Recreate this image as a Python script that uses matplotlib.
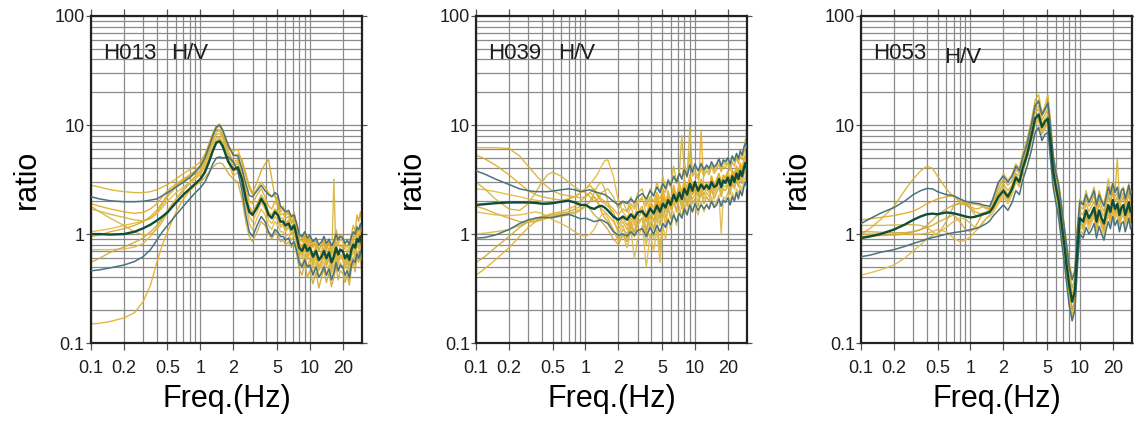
import matplotlib.pyplot as plt
from matplotlib.ticker import FixedLocator, NullFormatter

plt.rcParams['font.family'] = ['Liberation Sans', 'DejaVu Sans']
plt.rcParams['text.color'] = '#1e1e1e'
plt.rcParams['xtick.labelcolor'] = '#1e1e1e'
plt.rcParams['ytick.labelcolor'] = '#1e1e1e'

# frequency samples (Hz), shared by all curves
freq = [0.1, 0.12, 0.15, 0.2, 0.25, 0.3, 0.35, 0.4, 0.45, 0.5,
        0.6, 0.7, 0.8, 0.9, 1.0, 1.1, 1.2, 1.3, 1.4, 1.5,
        1.6, 1.8, 2.0, 2.2, 2.4, 2.6, 2.8, 3.0, 3.3, 3.6,
        3.9, 4.2, 4.5, 4.8, 5.1, 5.4, 5.7, 6.0, 6.4, 6.8,
        7.2, 7.6, 8.0, 8.5, 9.0, 9.5, 10, 10.7, 11.4, 12.1,
        12.8, 13.5, 14.2, 15, 15.8, 16.6, 17.4, 18.2, 19, 20,
        21, 22, 23, 24, 25, 26, 27, 28, 29, 30]

# ---------------- H013 ----------------
h013_mean = [1.00, 1.00, 0.99, 1.00, 1.05, 1.13, 1.22, 1.33, 1.45, 1.58,
             1.95, 2.30, 2.60, 2.90, 3.20, 3.70, 4.60, 5.80, 6.90, 7.10,
             6.40, 4.60, 3.90, 4.10, 3.20, 2.10, 1.60, 1.50, 1.75, 2.10,
             1.85, 1.50, 1.40, 1.60, 1.50, 1.30, 1.30, 1.20, 1.25, 1.10,
             1.20, 0.95, 0.75, 0.70, 0.80, 0.70, 0.75, 0.62, 0.70, 0.58,
             0.62, 0.70, 0.60, 0.68, 0.55, 0.62, 0.75, 0.65, 0.72, 0.70,
             0.60, 0.65, 0.58, 0.72, 0.80, 0.75, 0.90, 0.85, 0.95, 0.80]
h013_upper = [2.20, 2.10, 2.02, 1.98, 1.98, 2.00, 2.05, 2.10, 2.25, 2.40,
              2.70, 3.00, 3.30, 3.70, 4.20, 5.00, 6.30, 8.00, 9.60, 10.0,
              9.00, 6.50, 5.30, 5.20, 4.00, 2.90, 2.25, 2.20, 2.50, 2.80,
              2.50, 2.30, 2.20, 2.40, 2.30, 1.80, 1.70, 1.60, 1.65, 1.45,
              1.50, 1.25, 1.00, 0.95, 1.05, 0.92, 0.98, 0.85, 0.92, 0.80,
              0.85, 0.95, 0.82, 0.90, 0.78, 0.85, 1.00, 0.88, 0.95, 0.92,
              0.82, 0.88, 0.80, 0.95, 1.05, 1.00, 1.15, 1.10, 1.25, 1.05]
h013_lower = [0.46, 0.47, 0.49, 0.52, 0.56, 0.62, 0.72, 0.88, 1.05, 1.20,
              1.50, 1.80, 2.10, 2.40, 2.65, 3.00, 3.60, 4.40, 5.00, 5.10,
              5.00, 5.10, 4.60, 3.80, 2.50, 1.50, 1.05, 0.95, 1.20, 1.45,
              1.30, 1.05, 0.95, 1.10, 1.05, 0.95, 0.95, 0.88, 0.92, 0.80,
              0.85, 0.70, 0.55, 0.50, 0.58, 0.50, 0.52, 0.42, 0.50, 0.40,
              0.44, 0.50, 0.42, 0.48, 0.38, 0.44, 0.55, 0.46, 0.52, 0.50,
              0.42, 0.46, 0.40, 0.52, 0.58, 0.55, 0.66, 0.60, 0.70, 0.58]
h013_obs = [
    [2.80, 2.70, 2.55, 2.45, 2.40, 2.40, 2.45, 2.55, 2.70, 2.85,
     3.20, 3.60, 3.90, 4.20, 4.60, 5.40, 6.80, 8.20, 9.20, 9.00,
     8.00, 6.20, 5.80, 6.00, 4.50, 3.40, 2.60, 2.30, 2.60, 3.00,
     2.70, 2.40, 2.20, 2.30, 2.00, 1.70, 1.80, 1.55, 1.60, 1.40,
     1.60, 1.10, 0.90, 0.85, 1.00, 0.80, 0.95, 0.75, 0.85, 0.70,
     0.80, 0.90, 0.70, 0.85, 0.65, 0.78, 0.95, 0.80, 0.90, 0.85,
     0.72, 0.80, 0.70, 0.90, 1.00, 0.92, 1.10, 1.05, 1.20, 1.00],
    [1.90, 1.80, 1.70, 1.60, 1.55, 1.58, 1.70, 1.90, 2.20, 2.50,
     2.90, 3.20, 3.50, 3.80, 4.00, 4.80, 6.00, 7.80, 9.40, 9.80,
     8.60, 5.80, 4.60, 4.80, 3.80, 2.60, 2.00, 1.90, 2.30, 2.60,
     2.20, 1.80, 1.70, 2.00, 1.80, 1.50, 1.55, 1.40, 1.45, 1.25,
     1.40, 1.05, 0.85, 0.75, 0.95, 0.70, 0.90, 0.60, 0.80, 0.55,
     0.70, 0.85, 0.58, 0.75, 0.50, 0.68, 0.85, 0.62, 0.80, 0.75,
     0.55, 0.72, 0.52, 0.80, 0.95, 0.70, 1.20, 0.90, 1.10, 0.75],
    [1.70, 1.62, 1.52, 1.42, 1.35, 1.32, 1.38, 1.55, 1.85, 2.20,
     2.70, 3.00, 3.30, 3.60, 3.80, 4.40, 5.60, 7.00, 8.20, 8.40,
     7.60, 5.20, 4.20, 4.40, 3.60, 2.40, 1.80, 1.60, 1.90, 2.30,
     2.00, 1.60, 1.50, 1.70, 1.60, 1.40, 1.40, 1.25, 1.35, 1.15,
     1.30, 0.95, 0.70, 0.65, 0.82, 0.62, 0.75, 0.55, 0.68, 0.50,
     0.58, 0.72, 0.55, 0.66, 0.48, 0.58, 0.72, 0.56, 0.66, 0.62,
     0.50, 0.60, 0.48, 0.66, 0.75, 0.62, 0.85, 0.78, 0.88, 0.70],
    [1.05, 1.08, 1.12, 1.20, 1.26, 1.32, 1.40, 1.55, 1.75, 2.00,
     2.40, 2.70, 3.00, 3.30, 3.60, 4.20, 5.20, 6.50, 7.60, 7.80,
     7.00, 4.80, 3.70, 4.00, 3.00, 2.00, 1.45, 1.30, 1.60, 1.95,
     1.70, 1.35, 1.25, 1.45, 1.35, 1.15, 1.20, 1.05, 1.15, 0.98,
     1.15, 0.85, 0.62, 0.60, 0.72, 0.58, 0.68, 0.50, 0.62, 0.46,
     0.52, 0.64, 0.50, 0.60, 0.44, 0.52, 0.68, 0.52, 0.62, 0.58,
     0.48, 0.56, 0.45, 0.62, 0.70, 0.60, 0.80, 0.72, 0.82, 0.66],
    [0.95, 0.98, 1.05, 1.12, 1.20, 1.30, 1.45, 1.65, 1.95, 2.30,
     2.80, 3.10, 3.40, 3.80, 4.30, 5.20, 6.60, 8.40, 9.80, 10.2,
     9.00, 6.60, 5.20, 5.40, 4.80, 3.60, 2.80, 2.40, 3.00, 3.80,
     4.40, 4.80, 3.20, 2.20, 1.90, 1.60, 1.70, 1.50, 1.55, 1.30,
     1.45, 1.20, 1.00, 0.90, 1.05, 0.85, 0.95, 0.78, 0.90, 0.72,
     0.80, 0.95, 0.75, 0.88, 0.70, 0.82, 1.10, 0.90, 1.00, 0.95,
     0.80, 0.90, 0.78, 1.00, 1.20, 1.05, 1.50, 1.30, 1.60, 1.25],
    [0.72, 0.72, 0.72, 0.73, 0.76, 0.82, 0.95, 1.15, 1.40, 1.65,
     2.10, 2.50, 2.90, 3.20, 3.50, 4.00, 4.80, 6.00, 7.20, 7.60,
     6.80, 4.60, 3.40, 3.70, 2.80, 1.80, 1.25, 1.10, 1.40, 1.70,
     1.50, 1.20, 1.10, 1.30, 1.20, 1.05, 1.05, 0.95, 1.00, 0.88,
     1.00, 0.78, 0.58, 0.52, 0.65, 0.50, 0.58, 0.44, 0.55, 0.40,
     0.46, 0.56, 0.42, 0.52, 0.38, 0.46, 0.60, 0.45, 0.55, 0.50,
     0.40, 0.48, 0.38, 0.55, 0.62, 0.52, 0.70, 0.65, 0.75, 0.60],
    [0.55, 0.60, 0.68, 0.76, 0.84, 0.92, 1.05, 1.20, 1.40, 1.60,
     1.95, 2.30, 2.55, 2.80, 3.00, 3.30, 3.70, 4.10, 4.40, 4.50,
     4.40, 3.60, 3.20, 3.00, 2.10, 1.30, 0.95, 0.85, 1.05, 1.30,
     1.20, 1.00, 0.90, 1.05, 1.00, 0.85, 0.88, 0.80, 0.85, 0.75,
     0.85, 0.65, 0.48, 0.42, 0.55, 0.40, 0.46, 0.35, 0.45, 0.32,
     0.40, 0.48, 0.36, 0.44, 0.33, 0.40, 0.50, 0.38, 0.46, 0.44,
     0.36, 0.42, 0.34, 0.48, 0.55, 0.45, 0.62, 0.55, 0.66, 0.40],
    [0.15, 0.152, 0.158, 0.17, 0.19, 0.24, 0.34, 0.55, 0.80, 1.05,
     1.60, 2.10, 2.50, 2.80, 3.10, 3.60, 4.50, 5.80, 7.00, 7.40,
     6.60, 4.80, 3.80, 4.00, 3.20, 2.20, 1.70, 1.55, 1.85, 2.20,
     1.90, 1.55, 1.45, 1.65, 1.50, 1.30, 1.35, 1.20, 1.30, 1.10,
     1.25, 1.00, 0.80, 0.72, 0.88, 0.70, 0.78, 0.62, 0.75, 0.56,
     0.65, 0.75, 0.60, 0.72, 0.55, 0.62, 0.80, 0.62, 0.72, 0.70,
     0.58, 0.66, 0.56, 0.72, 0.85, 0.75, 0.95, 0.88, 1.00, 0.85],
    [1.80, 1.60, 1.40, 1.20, 1.05, 0.98, 1.00, 1.10, 1.30, 1.55,
     2.10, 2.60, 3.00, 3.40, 3.80, 4.60, 5.80, 7.20, 8.60, 9.00,
     8.00, 5.60, 4.40, 4.60, 3.50, 2.30, 1.70, 1.50, 1.80, 2.20,
     1.90, 1.55, 1.40, 1.55, 1.45, 1.20, 1.25, 1.10, 1.20, 1.00,
     1.10, 0.90, 0.70, 0.62, 0.78, 0.60, 0.70, 0.52, 0.64, 0.48,
     0.55, 0.66, 0.52, 0.62, 0.46, 3.20, 0.60, 0.55, 0.65, 0.60,
     0.50, 0.58, 0.46, 0.62, 0.72, 0.62, 0.85, 0.75, 0.88, 0.72],
]

# ---------------- H039 ----------------
h039_mean = [1.85, 1.88, 1.92, 1.95, 1.95, 1.95, 1.93, 1.90, 1.90, 1.92,
             1.98, 2.02, 1.95, 1.85, 1.85, 1.75, 1.70, 1.78, 1.82, 1.75,
             1.65, 1.45, 1.35, 1.45, 1.35, 1.52, 1.40, 1.58, 1.62, 1.45,
             1.72, 1.55, 1.82, 1.60, 1.90, 1.75, 2.05, 1.85, 2.30, 2.00,
             2.40, 2.10, 2.60, 2.30, 2.90, 2.50, 3.00, 2.50, 2.85, 2.60,
             2.80, 2.60, 3.00, 2.70, 2.80, 3.20, 2.70, 3.10, 2.95, 3.30,
             2.80, 3.40, 3.00, 3.60, 3.20, 3.80, 3.40, 4.00, 4.50, 3.90]
h039_upper = [3.80, 3.55, 3.20, 2.85, 2.60, 2.50, 2.45, 2.45, 2.45, 2.48,
              2.55, 2.60, 2.55, 2.45, 2.50, 2.55, 2.45, 2.40, 2.35, 2.30,
              2.20, 2.00, 1.85, 2.00, 1.90, 2.10, 1.95, 2.20, 2.35, 2.10,
              2.50, 2.25, 2.70, 2.40, 2.90, 2.60, 3.10, 2.80, 3.40, 3.00,
              3.60, 3.20, 3.90, 3.40, 4.30, 3.70, 4.40, 3.80, 4.40, 3.90,
              4.30, 4.00, 4.60, 4.10, 4.40, 4.90, 4.20, 4.80, 4.60, 5.00,
              4.40, 5.20, 4.70, 5.50, 4.90, 5.80, 5.30, 6.20, 6.80, 6.20]
h039_lower = [0.92, 0.93, 0.98, 1.10, 1.25, 1.35, 1.40, 1.42, 1.42, 1.42,
              1.48, 1.52, 1.45, 1.38, 1.40, 1.35, 1.30, 1.33, 1.35, 1.30,
              1.25, 1.05, 0.98, 1.00, 0.96, 1.05, 0.97, 1.08, 1.12, 0.95,
              1.15, 1.00, 1.20, 1.05, 1.25, 1.15, 1.35, 1.22, 1.50, 1.30,
              1.55, 1.40, 1.70, 1.50, 1.85, 1.60, 1.90, 1.65, 1.85, 1.70,
              1.85, 1.70, 2.00, 1.75, 1.85, 2.10, 1.80, 2.05, 1.95, 2.15,
              1.85, 2.20, 2.00, 2.40, 2.10, 2.50, 2.25, 2.70, 3.00, 2.60]
h039_obs = [
    [6.20, 6.20, 6.20, 6.10, 5.20, 4.20, 3.50, 3.00, 2.70, 2.50,
     2.30, 2.25, 2.20, 2.15, 2.20, 2.40, 2.60, 2.30, 2.10, 2.00,
     1.90, 1.70, 1.50, 1.70, 1.60, 1.90, 1.70, 2.00, 2.10, 1.80,
     2.20, 2.00, 2.40, 2.10, 2.60, 2.40, 3.00, 2.70, 3.40, 2.90,
     3.60, 8.00, 3.80, 3.30, 5.50, 3.40, 3.60, 3.20, 4.00, 3.40,
     3.80, 3.50, 4.20, 3.60, 3.90, 4.40, 3.70, 4.20, 4.00, 4.50,
     3.80, 4.60, 4.20, 5.00, 4.40, 5.20, 4.80, 5.60, 6.00, 5.20],
    [5.30, 4.90, 4.30, 3.50, 2.90, 2.50, 2.30, 2.20, 2.15, 2.10,
     2.05, 2.10, 2.20, 2.40, 2.60, 2.80, 2.50, 2.20, 2.00, 1.90,
     1.80, 1.60, 1.20, 1.40, 1.20, 1.50, 1.30, 1.60, 1.70, 1.30,
     1.80, 1.50, 2.00, 1.60, 2.20, 1.80, 2.50, 2.00, 2.80, 2.20,
     3.00, 2.40, 3.20, 2.60, 3.50, 2.80, 2.70, 2.40, 3.20, 2.60,
     3.00, 2.70, 3.40, 2.80, 3.10, 3.60, 2.90, 3.40, 3.20, 3.70,
     3.00, 3.80, 3.40, 4.20, 3.60, 4.30, 3.90, 4.80, 5.20, 4.40],
    [3.00, 2.60, 2.10, 1.70, 1.65, 1.90, 2.40, 3.00, 3.50, 3.70,
     3.40, 3.00, 2.70, 2.50, 2.40, 2.20, 2.00, 2.10, 2.40, 2.50,
     2.60, 2.20, 1.70, 2.00, 1.60, 2.20, 1.80, 2.40, 2.60, 1.90,
     2.60, 2.20, 3.00, 2.40, 3.40, 2.60, 3.20, 2.80, 4.20, 3.00,
     3.80, 3.20, 4.60, 3.40, 9.50, 3.60, 3.80, 3.40, 4.50, 3.60,
     4.20, 3.70, 4.60, 3.80, 4.20, 5.00, 3.90, 4.60, 4.30, 5.00,
     4.00, 5.20, 4.60, 5.40, 4.80, 5.80, 5.20, 6.20, 7.50, 5.80],
    [2.60, 2.55, 2.45, 2.30, 2.20, 2.10, 2.05, 2.00, 1.95, 1.95,
     2.00, 2.10, 2.20, 2.40, 2.60, 2.90, 3.20, 3.60, 4.20, 4.70,
     4.80, 3.40, 2.00, 1.60, 1.40, 1.80, 1.40, 1.90, 2.20, 1.50,
     2.10, 1.70, 2.40, 1.80, 2.60, 2.00, 2.30, 1.90, 2.60, 2.10,
     2.80, 2.20, 3.00, 2.40, 3.20, 2.50, 2.80, 2.40, 3.00, 2.50,
     2.90, 2.60, 3.20, 2.70, 3.00, 3.40, 2.80, 3.30, 3.10, 3.50,
     2.90, 3.60, 3.20, 3.90, 3.40, 4.10, 3.70, 4.40, 5.00, 4.00],
    [1.80, 1.70, 1.55, 1.40, 1.30, 1.28, 1.30, 1.35, 1.40, 1.45,
     1.50, 1.55, 1.60, 1.70, 1.80, 2.00, 2.20, 2.00, 1.60, 1.40,
     1.30, 1.10, 0.90, 1.10, 1.00, 1.30, 1.05, 1.40, 1.60, 1.10,
     1.70, 1.30, 2.00, 1.40, 2.20, 1.60, 2.00, 1.70, 2.40, 1.90,
     2.60, 2.00, 2.80, 2.20, 3.00, 2.30, 2.50, 2.20, 2.80, 2.30,
     2.60, 2.40, 3.00, 2.50, 2.80, 3.20, 2.60, 3.00, 2.90, 3.20,
     2.70, 3.30, 3.00, 3.60, 3.10, 3.80, 3.40, 4.00, 4.50, 3.60],
    [1.60, 1.55, 1.50, 1.48, 1.50, 1.55, 1.60, 1.55, 1.45, 1.35,
     1.25, 1.15, 1.05, 0.98, 0.95, 1.00, 1.10, 1.30, 1.50, 1.55,
     1.40, 1.10, 0.85, 1.00, 0.75, 1.10, 0.60, 0.90, 1.20, 0.50,
     1.00, 0.70, 1.10, 0.55, 1.20, 0.90, 1.40, 1.10, 1.60, 1.20,
     1.80, 1.40, 2.00, 1.50, 2.20, 1.60, 1.80, 1.50, 2.00, 1.60,
     1.90, 1.70, 2.20, 1.80, 2.00, 2.30, 1.00, 2.20, 2.10, 2.40,
     1.90, 2.40, 2.10, 2.60, 2.30, 2.80, 2.50, 3.00, 3.40, 2.70],
    [0.55, 0.62, 0.75, 0.95, 1.15, 1.30, 1.40, 1.45, 1.48, 1.50,
     1.55, 1.60, 1.70, 1.80, 1.90, 1.70, 1.50, 1.40, 1.30, 1.20,
     1.10, 0.90, 0.80, 1.00, 0.85, 1.20, 0.95, 1.30, 1.40, 1.00,
     1.50, 1.10, 1.70, 1.20, 1.90, 1.40, 1.70, 1.40, 2.00, 1.60,
     2.20, 1.70, 2.40, 1.80, 2.60, 1.90, 2.10, 1.80, 2.40, 1.90,
     2.20, 2.00, 2.60, 2.10, 2.40, 2.70, 2.20, 2.60, 2.50, 2.80,
     2.30, 2.90, 2.60, 3.10, 2.70, 3.30, 2.90, 3.50, 3.90, 3.10],
    [0.42, 0.48, 0.58, 0.75, 0.95, 1.15, 1.30, 1.40, 1.50, 1.55,
     1.60, 1.70, 1.80, 2.00, 2.20, 2.40, 2.20, 1.90, 1.70, 1.60,
     1.50, 1.30, 1.10, 1.30, 1.10, 1.40, 1.20, 1.60, 1.80, 1.30,
     1.90, 1.50, 2.20, 1.70, 2.50, 1.90, 2.20, 1.80, 2.60, 2.00,
     2.40, 2.10, 2.80, 2.20, 3.20, 2.40, 2.60, 2.30, 9.00, 2.60,
     2.90, 2.60, 3.40, 2.80, 3.20, 3.60, 3.00, 3.50, 3.30, 3.80,
     3.10, 3.90, 3.50, 4.20, 3.70, 4.50, 4.00, 4.80, 5.40, 13.0],
    [1.00, 1.02, 1.05, 1.10, 1.20, 1.30, 1.35, 1.38, 1.40, 1.42,
     1.45, 1.50, 1.55, 1.65, 1.80, 2.00, 2.40, 2.80, 3.00, 2.60,
     2.00, 1.40, 1.00, 1.20, 0.90, 1.30, 0.95, 1.20, 1.40, 0.80,
     1.30, 0.90, 1.50, 0.70, 1.60, 1.20, 1.80, 1.40, 2.20, 1.60,
     2.40, 1.80, 2.60, 2.00, 2.40, 2.10, 2.30, 2.00, 2.60, 2.10,
     2.40, 2.20, 2.80, 2.30, 2.60, 3.00, 2.40, 2.80, 2.70, 3.00,
     2.50, 3.10, 2.80, 3.30, 2.90, 3.50, 3.20, 3.70, 4.10, 3.30],
]

# ---------------- H053 ----------------
h053_mean = [0.92, 0.95, 1.00, 1.10, 1.22, 1.35, 1.45, 1.52, 1.54, 1.52,
             1.58, 1.55, 1.50, 1.45, 1.42, 1.44, 1.48, 1.52, 1.55, 1.60,
             1.75, 2.20, 2.50, 2.20, 2.60, 3.30, 3.00, 4.00, 5.40, 7.80,
             11.5, 12.5, 9.60, 10.8, 11.5, 6.80, 3.80, 2.80, 2.00, 1.25,
             0.80, 0.50, 0.34, 0.24, 0.30, 0.75, 1.40, 1.30, 1.65, 1.40,
             1.55, 1.75, 1.30, 1.65, 1.40, 1.25, 1.55, 1.85, 1.60, 2.05,
             1.70, 1.90, 1.50, 1.75, 1.85, 1.50, 1.70, 1.95, 1.60, 1.75]
h053_upper = [1.25, 1.38, 1.55, 1.75, 2.00, 2.30, 2.50, 2.62, 2.60, 2.45,
              2.30, 2.25, 2.10, 2.00, 1.95, 1.92, 1.90, 1.85, 1.82, 1.80,
              2.10, 3.00, 3.40, 3.00, 3.40, 4.20, 3.80, 5.00, 6.80, 10.0,
              15.0, 16.5, 12.5, 14.0, 16.0, 9.50, 5.20, 3.80, 2.80, 1.80,
              1.15, 0.75, 0.50, 0.38, 0.45, 1.10, 2.00, 1.85, 2.30, 1.95,
              2.20, 2.50, 1.85, 2.30, 2.00, 1.80, 2.20, 2.70, 2.30, 2.90,
              2.40, 2.70, 2.10, 2.50, 2.60, 2.10, 2.40, 2.80, 2.30, 2.50]
h053_lower = [0.62, 0.64, 0.68, 0.72, 0.77, 0.82, 0.86, 0.90, 0.93, 0.95,
              1.00, 1.03, 1.05, 1.07, 1.10, 1.12, 1.15, 1.20, 1.25, 1.32,
              1.45, 1.65, 1.85, 1.65, 1.95, 2.50, 2.30, 3.10, 4.20, 5.80,
              8.50, 9.50, 7.20, 8.20, 8.60, 4.80, 2.70, 2.00, 1.40, 0.85,
              0.55, 0.34, 0.22, 0.16, 0.20, 0.50, 1.00, 0.92, 1.15, 1.00,
              1.10, 1.25, 0.92, 1.18, 1.00, 0.88, 1.10, 1.30, 1.12, 1.45,
              1.20, 1.35, 1.05, 1.25, 1.30, 1.05, 1.20, 1.40, 1.12, 1.25]
h053_obs = [
    [1.00, 1.12, 1.35, 1.80, 2.50, 3.20, 3.80, 4.20, 4.00, 3.40,
     2.60, 2.20, 2.00, 1.92, 1.90, 1.88, 1.85, 1.78, 1.70, 1.75,
     2.00, 2.80, 3.60, 3.10, 3.50, 4.40, 4.00, 5.50, 7.50, 11.0,
     17.0, 19.0, 13.0, 15.0, 19.0, 11.0, 5.50, 4.00, 2.90, 1.90,
     1.20, 0.80, 0.55, 0.40, 0.48, 1.20, 2.10, 1.90, 2.50, 2.00,
     2.30, 2.70, 1.90, 2.50, 2.10, 1.90, 2.40, 3.20, 2.50, 3.00,
     2.50, 5.00, 2.10, 2.60, 2.70, 2.20, 2.50, 2.90, 2.40, 2.60],
    [1.35, 1.38, 1.42, 1.48, 1.55, 1.62, 1.75, 1.90, 2.00, 2.10,
     2.20, 2.25, 2.10, 1.95, 1.80, 1.70, 1.72, 1.80, 1.75, 1.70,
     1.80, 2.40, 2.90, 2.50, 2.80, 3.60, 3.40, 4.50, 6.00, 9.00,
     14.0, 15.0, 11.0, 12.5, 14.0, 8.00, 4.20, 3.20, 2.30, 1.40,
     0.90, 0.60, 0.40, 0.28, 0.35, 0.90, 1.60, 1.50, 1.90, 1.60,
     1.80, 2.00, 1.50, 1.90, 1.60, 1.45, 1.80, 2.20, 1.90, 2.40,
     2.00, 2.20, 1.70, 2.00, 2.20, 1.70, 2.00, 2.30, 1.90, 2.10],
    [1.20, 1.20, 1.20, 1.21, 1.22, 1.22, 1.20, 1.15, 1.05, 0.98,
     1.30, 1.80, 1.95, 1.90, 1.70, 1.50, 1.45, 1.50, 1.55, 1.60,
     1.70, 2.30, 2.70, 2.30, 2.70, 3.50, 3.10, 4.20, 5.80, 8.50,
     13.0, 14.0, 10.0, 11.5, 12.5, 7.00, 3.80, 2.80, 2.00, 1.20,
     0.75, 0.45, 0.30, 0.20, 0.26, 0.70, 1.30, 1.20, 1.60, 1.30,
     1.50, 1.70, 1.20, 1.60, 1.35, 1.15, 1.50, 1.80, 1.50, 2.00,
     1.60, 1.85, 1.40, 1.70, 1.80, 1.40, 1.65, 1.90, 1.50, 1.70],
    [1.00, 1.00, 1.00, 1.00, 1.00, 1.00, 1.00, 1.02, 1.05, 1.10,
     1.05, 0.92, 0.85, 0.88, 0.95, 1.05, 1.15, 1.30, 1.40, 1.45,
     1.55, 1.90, 2.20, 1.90, 2.30, 3.00, 2.70, 3.60, 5.00, 7.20,
     10.5, 11.5, 8.50, 9.50, 10.5, 5.80, 3.20, 2.40, 1.70, 1.00,
     0.62, 0.38, 0.25, 0.18, 0.22, 0.60, 1.20, 1.10, 1.40, 1.20,
     1.35, 1.55, 1.10, 1.45, 1.20, 1.05, 1.35, 1.60, 1.35, 1.75,
     1.45, 1.65, 1.25, 1.50, 1.60, 1.25, 1.45, 1.70, 1.35, 1.55],
    [0.95, 0.96, 0.97, 0.98, 1.00, 1.05, 1.10, 1.15, 1.20, 1.28,
     1.40, 1.50, 1.30, 1.10, 1.05, 1.15, 1.35, 1.55, 1.60, 1.55,
     1.65, 2.10, 2.40, 2.10, 2.50, 3.20, 2.90, 3.90, 5.20, 7.50,
     11.0, 12.0, 9.00, 10.0, 11.0, 6.20, 3.50, 2.60, 1.85, 1.10,
     0.70, 0.42, 0.28, 0.20, 0.25, 0.65, 1.30, 1.15, 1.50, 1.25,
     1.40, 1.60, 1.15, 1.50, 1.25, 1.10, 1.40, 1.70, 1.40, 1.90,
     1.55, 1.75, 1.30, 1.60, 1.70, 1.30, 1.55, 1.80, 1.45, 1.65],
    [0.42, 0.44, 0.47, 0.52, 0.60, 0.70, 0.80, 0.90, 0.97, 1.02,
     1.15, 1.30, 1.40, 1.38, 1.25, 1.15, 1.15, 1.25, 1.40, 1.50,
     1.65, 2.00, 2.30, 2.00, 2.40, 3.10, 2.80, 3.70, 5.00, 7.00,
     10.0, 11.0, 8.20, 9.20, 10.0, 5.60, 3.10, 2.30, 1.60, 0.95,
     0.60, 0.36, 0.24, 0.17, 0.21, 0.55, 1.10, 1.00, 1.35, 1.10,
     1.25, 1.45, 1.05, 1.40, 1.15, 0.95, 1.25, 1.50, 1.25, 1.60,
     1.35, 1.55, 1.15, 1.40, 1.50, 1.15, 1.35, 1.60, 1.25, 1.45],
    [1.05, 1.05, 1.04, 1.03, 1.03, 1.05, 1.10, 1.20, 1.35, 1.50,
     1.70, 1.85, 1.90, 1.85, 1.75, 1.60, 1.55, 1.55, 1.60, 1.70,
     1.85, 2.60, 3.20, 2.80, 3.10, 3.90, 3.60, 4.80, 6.50, 9.50,
     15.5, 17.0, 12.0, 13.5, 16.5, 9.50, 4.80, 3.50, 2.50, 1.60,
     1.00, 0.65, 0.45, 0.32, 0.40, 1.00, 1.80, 1.70, 2.10, 1.80,
     2.00, 2.30, 1.70, 2.10, 1.80, 1.60, 2.00, 2.40, 2.00, 2.60,
     2.20, 2.40, 1.90, 2.20, 2.40, 1.90, 2.20, 2.50, 2.10, 2.30],
]

sites = ['H013', 'H039', 'H053']
obs_sets = [h013_obs, h039_obs, h053_obs]
means = [h013_mean, h039_mean, h053_mean]
uppers = [h013_upper, h039_upper, h053_upper]
lowers = [h013_lower, h039_lower, h053_lower]

x_labeled = [0.1, 0.2, 0.5, 1, 2, 5, 10, 20]
x_grid = [0.1, 0.2, 0.3, 0.4, 0.5, 0.6, 0.7, 0.8, 0.9,
          1, 2, 3, 4, 5, 6, 7, 8, 9, 10, 20, 30]
y_labeled = [0.1, 1, 10, 100]
y_grid = [0.1 * k for k in range(1, 10)] + [k for k in range(1, 10)] + \
         [10 * k for k in range(1, 11)]

yellows = ['#d9b12f', '#e2a91f', '#cfb442', '#e6b73a', '#d6a82a',
           '#e0b84a', '#cda936', '#e8ad28', '#d8b53c']

fig = plt.figure(figsize=(11.34, 4.21), dpi=100)
lefts = [0.0802, 0.4198, 0.7593]
hv_x = [0.295, 0.302, 0.308]
hv_y = [0.885, 0.885, 0.872]

for i in range(3):
    ax = fig.add_axes([lefts[i], 0.185, 0.239, 0.777])
    ax.set_xscale('log')
    ax.set_yscale('log')
    ax.set_xlim(0.1, 30)
    ax.set_ylim(0.1, 100)

    for xv in x_grid:
        ax.axvline(xv, color='#8a8a8a', lw=0.9, zorder=0)
    for yv in y_grid:
        ax.axhline(yv, color='#8a8a8a', lw=0.9, zorder=0)

    for j, curve in enumerate(obs_sets[i]):
        ax.plot(freq, curve, color=yellows[j % len(yellows)], lw=1.0,
                alpha=0.9, zorder=2)
    ax.plot(freq, uppers[i], color='#4a7380', lw=1.1, zorder=3)
    ax.plot(freq, lowers[i], color='#4a7380', lw=1.1, zorder=3)
    ax.plot(freq, means[i], color='#0d4d3a', lw=1.7, zorder=4)

    ax.xaxis.set_major_locator(FixedLocator(x_labeled))
    ax.xaxis.set_minor_locator(FixedLocator([]))
    ax.set_xticklabels(['0.1', '0.2', '0.5', '1', '2', '5', '10', '20'])
    ax.yaxis.set_major_locator(FixedLocator(y_labeled))
    ax.yaxis.set_minor_locator(FixedLocator([]))
    ax.yaxis.set_minor_formatter(NullFormatter())
    ax.set_yticklabels(['0.1', '1', '10', '100'])
    ax.tick_params(axis='x', which='major', direction='out', length=5,
                   width=0.9, color='#555555', labelsize=13, top=True,
                   pad=7)
    ax.tick_params(axis='y', which='major', direction='out', length=3.5,
                   width=0.9, color='#555555', labelsize=13, right=True,
                   pad=1)

    for s in ax.spines.values():
        s.set_linewidth(1.6)
        s.set_color('#222222')

    ax.set_xlabel('Freq.(Hz)', fontsize=22, labelpad=5)
    ax.set_ylabel('ratio', fontsize=22, labelpad=9)
    ax.text(0.045, 0.885, sites[i], transform=ax.transAxes, fontsize=16,
            va='center', ha='left', zorder=5)
    ax.text(hv_x[i], hv_y[i], 'H/V', transform=ax.transAxes, fontsize=16,
            va='center', ha='left', zorder=5)

fig.savefig('out.png', dpi=100)
